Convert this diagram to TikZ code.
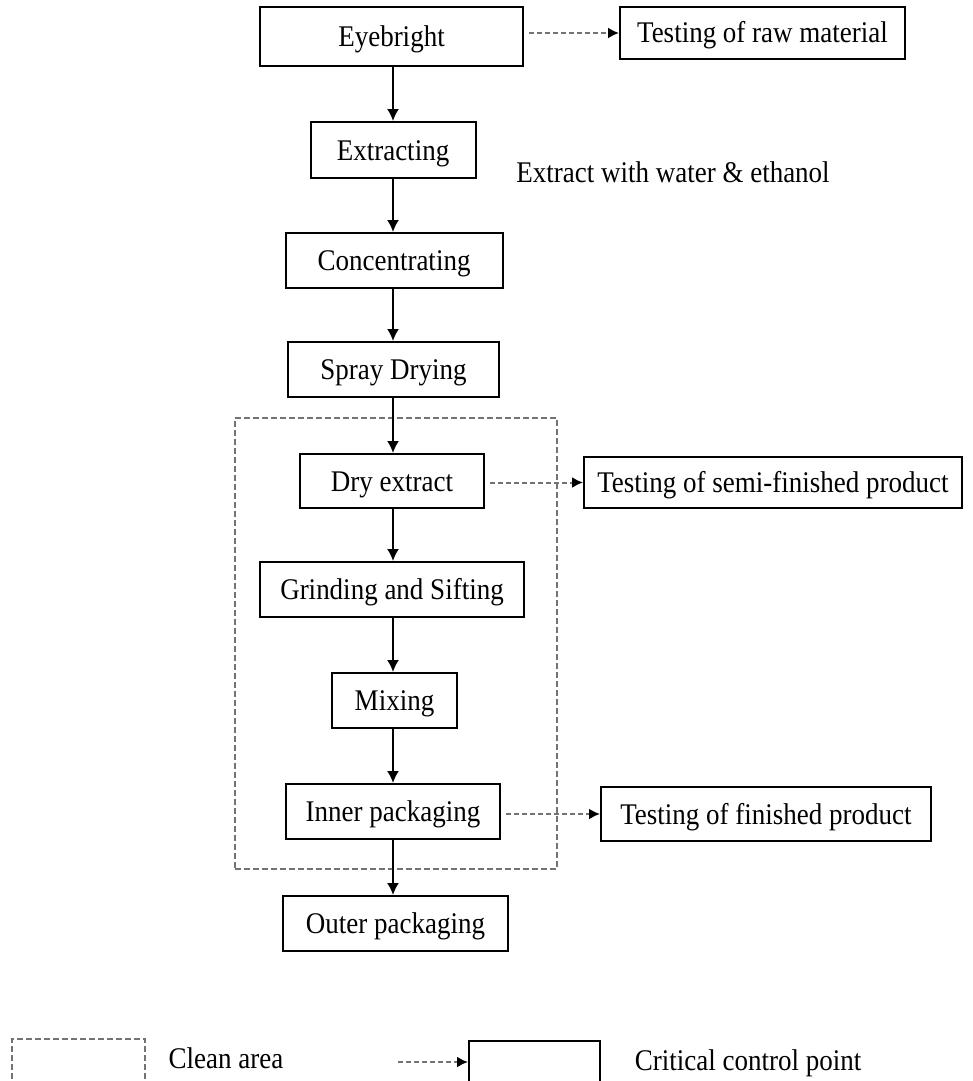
\documentclass[tikz,border=0pt]{standalone}
\usepackage{fontspec}
\setmainfont{Liberation Serif}[FakeStretch=0.9]
\usetikzlibrary{arrows.meta}
\begin{document}
\begin{tikzpicture}[x=1pt,y=-1pt,
  box/.style={draw=black, line width=2pt, inner sep=0pt, anchor=center, text height=20pt, text depth=0pt, font=\fontsize{30}{33}\selectfont},
  flow/.style={line width=1.8pt, -{Latex[length=12pt,width=12pt]}},
  test/.style={draw=black!55, line width=2pt, dash pattern=on 5pt off 3pt, shorten <=5pt, -{Latex[length=11pt,width=11pt,color=black]}},
  cleanbox/.style={draw=black!55, line width=1.8pt, dash pattern=on 6pt off 3pt, inner sep=0pt, anchor=north west},
  lbl/.style={inner sep=0pt, anchor=center, text height=20pt, text depth=0pt, font=\fontsize{30}{33}\selectfont}]
\useasboundingbox (0,0) rectangle (972,1081);
\clip (0,0) rectangle (972,1081);
% clean area
\node[cleanbox, minimum width=322pt, minimum height=451pt] (clean) at (234,417) {};
% main column
\node[box, minimum width=263pt, minimum height=59pt] (eye)   at (391.5,36.5) {Eyebright};
\node[box, minimum width=165pt, minimum height=56pt] (extr)  at (393,150) {Extracting};
\node[box, minimum width=217pt, minimum height=55pt] (conc)  at (394,260.5) {Concentrating};
\node[box, minimum width=211pt, minimum height=55pt] (spray) at (393.5,369.5) {Spray Drying};
\node[box, minimum width=184pt, minimum height=54pt] (dry)   at (392,481) {Dry extract};
\node[box, minimum width=264pt, minimum height=55pt] (grind) at (392,589.5) {Grinding and Sifting};
\node[box, minimum width=125pt, minimum height=55pt] (mix)   at (394.5,700.5) {Mixing};
\node[box, minimum width=214pt, minimum height=55pt] (inner) at (393,811.5) {Inner packaging};
\node[box, minimum width=225pt, minimum height=55pt] (outer) at (395.5,923.5) {Outer packaging};
% tests
\node[box, minimum width=285pt, minimum height=52pt] (raw)  at (762.5,33) {Testing of raw material};
\node[box, minimum width=378pt, minimum height=51pt] (semi) at (773,482.5) {Testing of semi-finished product};
\node[box, minimum width=330pt, minimum height=54pt] (fin)  at (766,814) {Testing of finished product};
\node[lbl] (solv) at (673,172) {Extract with water \& ethanol};
% flow arrows
\draw[flow] (eye.south -| extr.north) -- (extr.north);
\draw[flow] (extr.south) -- (extr.south |- conc.north);
\draw[flow] (extr.south |- conc.south) -- (extr.south |- spray.north);
\draw[flow] (extr.south |- spray.south) -- (extr.south |- dry.north);
\draw[flow] (extr.south |- dry.south) -- (extr.south |- grind.north);
\draw[flow] (extr.south |- grind.south) -- (extr.south |- mix.north);
\draw[flow] (extr.south |- mix.south) -- (extr.south |- inner.north);
\draw[flow] (extr.south |- inner.south) -- (extr.south |- outer.north);
% test arrows
\draw[test] (eye.east |- raw.west) -- (raw.west);
\draw[test] (dry.east |- semi.west) -- (semi.west);
\draw[test] (inner.east |- fin.west) -- (fin.west);
% legend
\node[cleanbox, minimum width=133pt, minimum height=60pt] (lclean) at (11,1038) {};
\node[lbl] (lcleantxt) at (226,1058) {Clean area};
\node[draw=black, line width=2pt, inner sep=0pt, anchor=north west, minimum width=131pt, minimum height=60pt] (lbox) at (468,1040) {};
\coordinate (la) at (398,1062);
\draw[test, shorten <=0pt] (la) -- (lbox.west |- la);
\node[lbl] (lccp) at (748,1060) {Critical control point};
\end{tikzpicture}
\end{document}
